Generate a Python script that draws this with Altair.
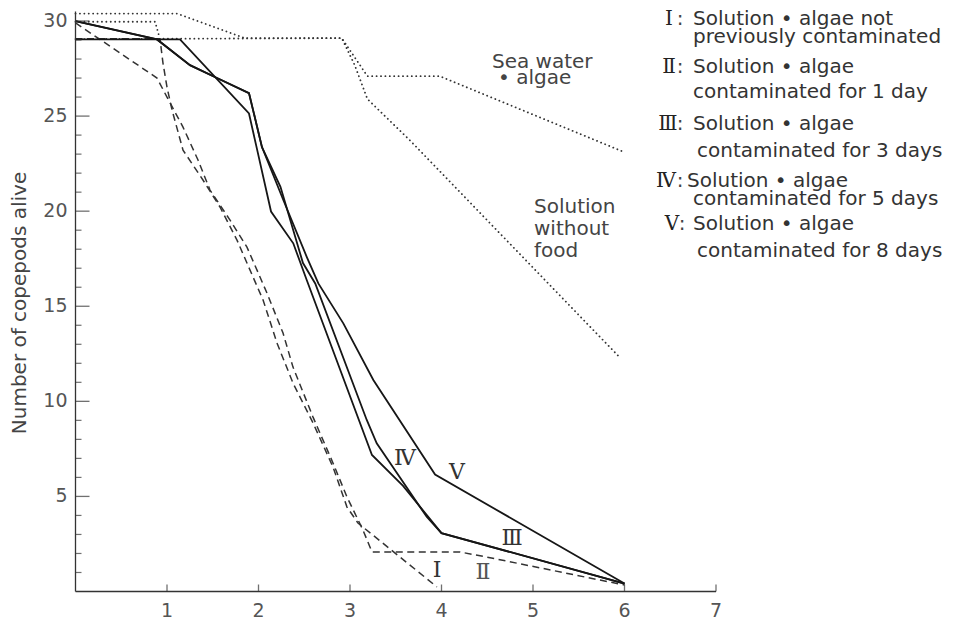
import altair as alt
import pandas as pd

# ---------------- data ----------------
# dotted curves
sea_x = [0, 1.11, 1.85, 2.91, 3.19, 3.98, 6.0]
sea_y = [30.39, 30.39, 29.1, 29.1, 27.1, 27.1, 23.1]

nofood_x = [0, 2.91, 3.05, 3.19, 3.66, 5.95]
nofood_y = [29.05, 29.1, 27.7, 25.9, 23.7, 12.3]

extra_x = [0, 0.87, 0.92]
extra_y = [29.96, 29.96, 29.1]

# dashed curves
I_x = [0, 0.923, 0.956, 1.0, 1.055, 1.175, 1.393, 1.579, 1.765, 1.94, 2.05,
       2.202, 2.377, 2.596, 2.814, 2.967, 3.087, 3.95]
I_y = [29.07, 29.07, 27.79, 26.52, 25.32, 23.21, 21.64, 20.22, 18.48, 16.54, 15.33,
       13.07, 10.96, 8.86, 6.55, 4.44, 3.6, 0.24]

II_x = [0, 0.891, 1.0, 1.175, 1.339, 1.47, 1.689, 1.874, 2.093, 2.268, 2.377,
        2.596, 2.814, 2.967, 3.142, 3.24, 4.2, 4.497, 6.0]
II_y = [29.9, 27.0, 26.0, 24.42, 22.69, 21.11, 19.53, 18.11, 15.69, 13.59, 11.8,
        9.17, 6.76, 4.97, 3.23, 2.08, 2.08, 1.81, 0.34]

# solid curves
III_x = [0, 1.142, 1.896, 2.137, 2.38, 2.527, 3.24, 3.58, 4.0, 6.0]
III_y = [29.03, 29.03, 25.14, 19.98, 18.31, 16.38, 7.18, 5.55, 3.07, 0.42]

IV_x = [0, 0.891, 1.251, 1.546, 1.896, 2.038, 2.24, 2.486, 2.62, 3.183, 3.292,
        3.838, 4.0, 6.0]
IV_y = [29.99, 29.03, 27.68, 27.0, 26.21, 23.37, 21.28, 17.27, 16.2, 9.02, 7.79,
        3.93, 3.07, 0.42]

V_x = [0, 0.891, 1.251, 1.546, 1.896, 2.038, 2.27, 2.527, 2.654, 2.927, 3.255,
       3.93, 6.0]
V_y = [29.99, 29.03, 27.68, 27.0, 26.21, 23.37, 20.6, 17.6, 16.2, 14.1, 11.12,
       6.15, 0.42]

x_tick_values = [1, 2, 3, 4, 5, 6, 7]
y_major_values = [5, 10, 15, 20, 25, 30]
y_minor_values = [v for v in range(1, 30) if v % 5]
y_title = "Number of copepods alive"

curves = [
    ("Sea water + algae", sea_x, sea_y, "dotted"),
    ("Solution without food", nofood_x, nofood_y, "dotted"),
    ("dotted start", extra_x, extra_y, "dotted"),
    ("I", I_x, I_y, "dashed"),
    ("II", II_x, II_y, "dashed"),
    ("III", III_x, III_y, "solid"),
    ("IV", IV_x, IV_y, "solid"),
    ("V", V_x, V_y, "solid"),
]

rows = []
for name, xs, ys, style in curves:
    for i, (xv, yv) in enumerate(zip(xs, ys)):
        rows.append({"series": name, "style": style, "i": i, "x": xv, "y": yv})
df = pd.DataFrame(rows)

# ---------------- layout ----------------
PLOT_W, PLOT_H = 640.5, 580
X0, Y0 = 75.5, 11.5          # page position of the plot origin
PAD = {"left": 67.5, "top": 3.5, "right": 241, "bottom": 29.5}

FONT = "DejaVu Sans"
SERIF = "DejaVu Serif"
AX = "#333333"
LBL = "#555555"

xscale = alt.Scale(domain=[0, 7], nice=False, zero=False)
yscale = alt.Scale(domain=[0, 30.5], nice=False, zero=False)

base = alt.Chart(df)


def curve_layer(style, **mark):
    return base.transform_filter(alt.datum.style == style).mark_line(**mark).encode(
        x=alt.X("x:Q", scale=xscale, axis=None),
        y=alt.Y("y:Q", scale=yscale, axis=None),
        detail="series:N",
        order="i:Q",
    )


dotted = curve_layer("dotted", color="#333333", strokeWidth=1.8,
                     strokeDash=[0.1, 4.3], strokeCap="round")
dashed = curve_layer("dashed", color="#333333", strokeWidth=1.5, strokeDash=[7, 4.5])
solid = curve_layer("solid", color="#161616", strokeWidth=1.8)

one = pd.DataFrame({"k": [0]})

# axis lines
y_domain = alt.Chart(one).mark_rule(color=AX, strokeWidth=1.3).encode(
    x=alt.value(0), y=alt.value(0), y2=alt.value(PLOT_H))
x_domain = alt.Chart(one).mark_rule(color=AX, strokeWidth=1.3).encode(
    x=alt.value(0), x2=alt.value(PLOT_W), y=alt.value(PLOT_H))

# ticks (pointing into the plot)
y_major = alt.Chart(pd.DataFrame({"y": y_major_values})).mark_tick(
    orient="horizontal", size=14, thickness=1.3, color=AX
).encode(y=alt.Y("y:Q", scale=yscale, axis=None), x=alt.value(7))

y_minor = alt.Chart(pd.DataFrame({"y": y_minor_values})).mark_tick(
    orient="horizontal", size=6, thickness=1.2, color=AX
).encode(y=alt.Y("y:Q", scale=yscale, axis=None), x=alt.value(3))

x_ticks = alt.Chart(pd.DataFrame({"x": x_tick_values})).mark_tick(
    orient="vertical", size=7, thickness=1.3, color=AX
).encode(x=alt.X("x:Q", scale=xscale, axis=None), y=alt.value(PLOT_H - 3.5))

# tick labels
y_labels = alt.Chart(pd.DataFrame({"y": y_major_values})).mark_text(
    align="right", baseline="middle", font=FONT, fontSize=19, color=LBL
).encode(y=alt.Y("y:Q", scale=yscale, axis=None), x=alt.value(-8), text="y:Q")

x_labels = alt.Chart(pd.DataFrame({"x": x_tick_values})).mark_text(
    align="center", baseline="alphabetic", font=FONT, fontSize=19, color=LBL
).encode(x=alt.X("x:Q", scale=xscale, axis=None), y=alt.value(PLOT_H + 25), text="x:Q")


def txt(s, px, py, size=20, font=FONT, align="left", baseline="alphabetic",
        color="#444444", angle=0):
    return alt.Chart(pd.DataFrame({"t": [s]})).mark_text(
        align=align, baseline=baseline, font=font, fontSize=size, color=color, angle=angle
    ).encode(x=alt.value(px - X0), y=alt.value(py - Y0), text="t:N")


annotations = [
    # axis title
    txt(y_title, 26, 303, size=20, align="center", angle=270),
    # curve labels
    txt("Ⅳ", 405, 458, size=22, font=SERIF, align="center", baseline="middle", color="#333333"),
    txt("Ⅴ", 457, 472, size=22, font=SERIF, align="center", baseline="middle", color="#333333"),
    txt("Ⅲ", 512, 538, size=22, font=SERIF, align="center", baseline="middle", color="#333333"),
    txt("Ⅰ", 437, 570, size=22, font=SERIF, align="center", baseline="middle", color="#333333"),
    txt("Ⅱ", 483, 572, size=22, font=SERIF, align="center", baseline="middle", color="#555555"),
    # dotted curve labels
    txt("Sea water", 492, 68),
    txt("• algae", 498, 84),
    txt("Solution", 534, 213),
    txt("without", 534, 235),
    txt("food", 534, 257),
    # legend block
    txt("Ⅰ", 669, 25, font=SERIF, align="center", color="#222222"),
    txt(":", 680, 25, align="center"),
    txt("Solution • algae not", 693, 25, color="#333333"),
    txt("previously contaminated", 693, 43, color="#333333"),
    txt("Ⅱ", 669, 73.3, font=SERIF, align="center", color="#222222"),
    txt(":", 680, 73.3, align="center"),
    txt("Solution • algae", 693, 73.3, color="#333333"),
    txt("contaminated for 1 day", 693, 98, color="#333333"),
    txt("Ⅲ", 668, 130, font=SERIF, align="center", color="#222222"),
    txt(":", 680, 130, align="center"),
    txt("Solution • algae", 693, 130, color="#333333"),
    txt("contaminated for 3 days", 697, 156.5, color="#333333"),
    txt("Ⅳ", 666, 186.7, font=SERIF, align="center", color="#222222"),
    txt(":", 680, 186.7, align="center"),
    txt("Solution • algae", 687, 186.7, color="#333333"),
    txt("contaminated for 5 days", 693, 205, color="#333333"),
    txt("Ⅴ", 672, 230, font=SERIF, align="center", color="#222222"),
    txt(":", 682, 230, align="center"),
    txt("Solution • algae", 693, 230, color="#333333"),
    txt("contaminated for 8 days", 697, 256.5, color="#333333"),
]

chart = alt.layer(
    dotted, dashed, solid, y_domain, x_domain, y_major, y_minor, x_ticks,
    y_labels, x_labels, *annotations
).properties(
    width=PLOT_W,
    height=PLOT_H,
    padding=PAD,
    autosize=alt.AutoSizeParams(type="none"),
    background="white",
).configure_view(stroke=None)

chart.save("out.html", embed_options={"renderer": "svg", "actions": False})
